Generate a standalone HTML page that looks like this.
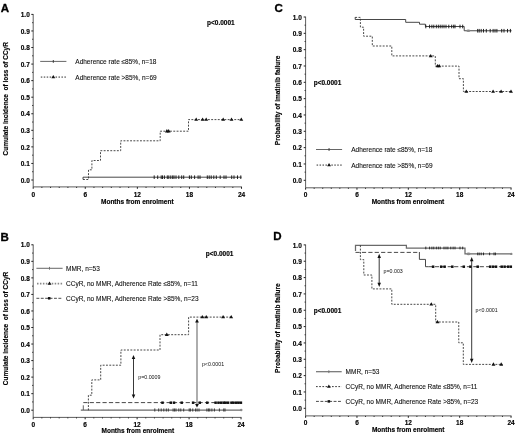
<!DOCTYPE html>
<html><head><meta charset="utf-8"><title>Figure</title>
<style>
html,body{margin:0;padding:0;background:#fff;}
svg{display:block;font-family:"Liberation Sans",sans-serif;filter:blur(0.35px);}
.b{font-size:6.5px;font-weight:bold;fill:#000;stroke:#000;stroke-width:0.15px;}
.r{font-size:6.5px;fill:#111;stroke:#111;stroke-width:0.1px;}
.s{font-size:5.3px;fill:#111;}
.L{font-size:10.8px;font-weight:bold;fill:#000;stroke:#000;stroke-width:0.3px;}
</style></head><body>
<svg width="520" height="437" viewBox="0 0 520 437">
<rect width="520" height="437" fill="#fff"/>
<path d="M33.2 14.1V186.9H241.92" fill="none" stroke="#333" stroke-width="0.8"/>
<path d="M31.3 180H33.2M32.2 171.72H33.2M31.3 163.44H33.2M32.2 155.16H33.2M31.3 146.88H33.2M32.2 138.6H33.2M31.3 130.32H33.2M32.2 122.04H33.2M31.3 113.76H33.2M32.2 105.48H33.2M31.3 97.2H33.2M32.2 88.92H33.2M31.3 80.64H33.2M32.2 72.36H33.2M31.3 64.08H33.2M32.2 55.8H33.2M31.3 47.52H33.2M32.2 39.24H33.2M31.3 30.96H33.2M32.2 22.68H33.2M31.3 14.4H33.2" stroke="#222" stroke-width="1.0" fill="none"/>
<path d="M33.2 186.9V188.8M41.88 186.9V187.9M50.56 186.9V187.9M59.24 186.9V187.9M67.92 186.9V187.9M76.6 186.9V187.9M85.28 186.9V188.8M93.96 186.9V187.9M102.64 186.9V187.9M111.32 186.9V187.9M120 186.9V187.9M128.68 186.9V187.9M137.36 186.9V188.8M146.04 186.9V187.9M154.72 186.9V187.9M163.4 186.9V187.9M172.08 186.9V187.9M180.76 186.9V187.9M189.44 186.9V188.8M198.12 186.9V187.9M206.8 186.9V187.9M215.48 186.9V187.9M224.16 186.9V187.9M232.84 186.9V187.9M241.52 186.9V188.8" stroke="#222" stroke-width="1.0" fill="none"/>
<text x="29.8" y="182.65" text-anchor="end" class="b">0.0</text>
<text x="29.8" y="166.09" text-anchor="end" class="b">0.1</text>
<text x="29.8" y="149.53" text-anchor="end" class="b">0.2</text>
<text x="29.8" y="132.97" text-anchor="end" class="b">0.3</text>
<text x="29.8" y="116.41" text-anchor="end" class="b">0.4</text>
<text x="29.8" y="99.85" text-anchor="end" class="b">0.5</text>
<text x="29.8" y="83.29" text-anchor="end" class="b">0.6</text>
<text x="29.8" y="66.73" text-anchor="end" class="b">0.7</text>
<text x="29.8" y="50.17" text-anchor="end" class="b">0.8</text>
<text x="29.8" y="33.61" text-anchor="end" class="b">0.9</text>
<text x="29.8" y="17.05" text-anchor="end" class="b">1.0</text>
<text x="33.2" y="196.8" text-anchor="middle" class="b">0</text>
<text x="85.28" y="196.8" text-anchor="middle" class="b">6</text>
<text x="137.36" y="196.8" text-anchor="middle" class="b">12</text>
<text x="189.44" y="196.8" text-anchor="middle" class="b">18</text>
<text x="241.52" y="196.8" text-anchor="middle" class="b">24</text>
<text transform="translate(0.65 11.75) scale(1.07 1)" class="L">A</text>
<text x="137.3" y="203.9" text-anchor="middle" class="b">Months from enrolment</text>
<text transform="translate(8.4 98.8) rotate(-90)" text-anchor="middle" class="b">Cumulate incidence&#160;&#160;of loss of CCyR</text>
<path d="M33.2 244.5V417.4H241.44" fill="none" stroke="#333" stroke-width="0.8"/>
<path d="M31.3 410.2H33.2M32.2 401.93H33.2M31.3 393.66H33.2M32.2 385.39H33.2M31.3 377.12H33.2M32.2 368.85H33.2M31.3 360.58H33.2M32.2 352.31H33.2M31.3 344.04H33.2M32.2 335.77H33.2M31.3 327.5H33.2M32.2 319.23H33.2M31.3 310.96H33.2M32.2 302.69H33.2M31.3 294.42H33.2M32.2 286.15H33.2M31.3 277.88H33.2M32.2 269.61H33.2M31.3 261.34H33.2M32.2 253.07H33.2M31.3 244.8H33.2" stroke="#222" stroke-width="1.0" fill="none"/>
<path d="M33.2 417.4V419.3M41.86 417.4V418.4M50.52 417.4V418.4M59.18 417.4V418.4M67.84 417.4V418.4M76.5 417.4V418.4M85.16 417.4V419.3M93.82 417.4V418.4M102.48 417.4V418.4M111.14 417.4V418.4M119.8 417.4V418.4M128.46 417.4V418.4M137.12 417.4V419.3M145.78 417.4V418.4M154.44 417.4V418.4M163.1 417.4V418.4M171.76 417.4V418.4M180.42 417.4V418.4M189.08 417.4V419.3M197.74 417.4V418.4M206.4 417.4V418.4M215.06 417.4V418.4M223.72 417.4V418.4M232.38 417.4V418.4M241.04 417.4V419.3" stroke="#222" stroke-width="1.0" fill="none"/>
<text x="29.8" y="412.85" text-anchor="end" class="b">0.0</text>
<text x="29.8" y="396.31" text-anchor="end" class="b">0.1</text>
<text x="29.8" y="379.77" text-anchor="end" class="b">0.2</text>
<text x="29.8" y="363.23" text-anchor="end" class="b">0.3</text>
<text x="29.8" y="346.69" text-anchor="end" class="b">0.4</text>
<text x="29.8" y="330.15" text-anchor="end" class="b">0.5</text>
<text x="29.8" y="313.61" text-anchor="end" class="b">0.6</text>
<text x="29.8" y="297.07" text-anchor="end" class="b">0.7</text>
<text x="29.8" y="280.53" text-anchor="end" class="b">0.8</text>
<text x="29.8" y="263.99" text-anchor="end" class="b">0.9</text>
<text x="29.8" y="247.45" text-anchor="end" class="b">1.0</text>
<text x="33.2" y="426.8" text-anchor="middle" class="b">0</text>
<text x="85.16" y="426.8" text-anchor="middle" class="b">6</text>
<text x="137.12" y="426.8" text-anchor="middle" class="b">12</text>
<text x="189.08" y="426.8" text-anchor="middle" class="b">18</text>
<text x="241.04" y="426.8" text-anchor="middle" class="b">24</text>
<text transform="translate(0.6 240.55) scale(1.07 1)" class="L">B</text>
<text x="137.8" y="433.2" text-anchor="middle" class="b">Months from enrolment</text>
<text transform="translate(8.4 328.5) rotate(-90)" text-anchor="middle" class="b">Cumulate incidence&#160;&#160;of loss of CCyR</text>
<path d="M305.6 16.7V187.8H511.44" fill="none" stroke="#333" stroke-width="0.8"/>
<path d="M303.7 180.3H305.6M304.6 172.14H305.6M303.7 163.97H305.6M304.6 155.81H305.6M303.7 147.64H305.6M304.6 139.48H305.6M303.7 131.31H305.6M304.6 123.15H305.6M303.7 114.98H305.6M304.6 106.81H305.6M303.7 98.65H305.6M304.6 90.48H305.6M303.7 82.32H305.6M304.6 74.16H305.6M303.7 65.99H305.6M304.6 57.83H305.6M303.7 49.66H305.6M304.6 41.49H305.6M303.7 33.33H305.6M304.6 25.16H305.6M303.7 17H305.6" stroke="#222" stroke-width="1.0" fill="none"/>
<path d="M305.6 187.8V189.7M314.16 187.8V188.8M322.72 187.8V188.8M331.28 187.8V188.8M339.84 187.8V188.8M348.4 187.8V188.8M356.96 187.8V189.7M365.52 187.8V188.8M374.08 187.8V188.8M382.64 187.8V188.8M391.2 187.8V188.8M399.76 187.8V188.8M408.32 187.8V189.7M416.88 187.8V188.8M425.44 187.8V188.8M434 187.8V188.8M442.56 187.8V188.8M451.12 187.8V188.8M459.68 187.8V189.7M468.24 187.8V188.8M476.8 187.8V188.8M485.36 187.8V188.8M493.92 187.8V188.8M502.48 187.8V188.8M511.04 187.8V189.7" stroke="#222" stroke-width="1.0" fill="none"/>
<text x="301.8" y="182.95" text-anchor="end" class="b">0.0</text>
<text x="301.8" y="166.62" text-anchor="end" class="b">0.1</text>
<text x="301.8" y="150.29" text-anchor="end" class="b">0.2</text>
<text x="301.8" y="133.96" text-anchor="end" class="b">0.3</text>
<text x="301.8" y="117.63" text-anchor="end" class="b">0.4</text>
<text x="301.8" y="101.3" text-anchor="end" class="b">0.5</text>
<text x="301.8" y="84.97" text-anchor="end" class="b">0.6</text>
<text x="301.8" y="68.64" text-anchor="end" class="b">0.7</text>
<text x="301.8" y="52.31" text-anchor="end" class="b">0.8</text>
<text x="301.8" y="35.98" text-anchor="end" class="b">0.9</text>
<text x="301.8" y="19.65" text-anchor="end" class="b">1.0</text>
<text x="305.6" y="196.6" text-anchor="middle" class="b">0</text>
<text x="356.96" y="196.6" text-anchor="middle" class="b">6</text>
<text x="408.32" y="196.6" text-anchor="middle" class="b">12</text>
<text x="459.68" y="196.6" text-anchor="middle" class="b">18</text>
<text x="511.04" y="196.6" text-anchor="middle" class="b">24</text>
<text transform="translate(274.5 11.8) scale(1.07 1)" class="L">C</text>
<text x="408" y="203.9" text-anchor="middle" class="b">Months from enrolment</text>
<text transform="translate(279.9 100.4) rotate(-90)" text-anchor="middle" class="b">Probability of imatinib failure</text>
<path d="M305.6 244.6V415.9H511.44" fill="none" stroke="#333" stroke-width="0.8"/>
<path d="M303.7 408.3H305.6M304.6 400.13H305.6M303.7 391.96H305.6M304.6 383.79H305.6M303.7 375.62H305.6M304.6 367.45H305.6M303.7 359.28H305.6M304.6 351.11H305.6M303.7 342.94H305.6M304.6 334.77H305.6M303.7 326.6H305.6M304.6 318.43H305.6M303.7 310.26H305.6M304.6 302.09H305.6M303.7 293.92H305.6M304.6 285.75H305.6M303.7 277.58H305.6M304.6 269.41H305.6M303.7 261.24H305.6M304.6 253.07H305.6M303.7 244.9H305.6" stroke="#222" stroke-width="1.0" fill="none"/>
<path d="M305.6 415.9V417.8M314.16 415.9V416.9M322.72 415.9V416.9M331.28 415.9V416.9M339.84 415.9V416.9M348.4 415.9V416.9M356.96 415.9V417.8M365.52 415.9V416.9M374.08 415.9V416.9M382.64 415.9V416.9M391.2 415.9V416.9M399.76 415.9V416.9M408.32 415.9V417.8M416.88 415.9V416.9M425.44 415.9V416.9M434 415.9V416.9M442.56 415.9V416.9M451.12 415.9V416.9M459.68 415.9V417.8M468.24 415.9V416.9M476.8 415.9V416.9M485.36 415.9V416.9M493.92 415.9V416.9M502.48 415.9V416.9M511.04 415.9V417.8" stroke="#222" stroke-width="1.0" fill="none"/>
<text x="301.8" y="410.95" text-anchor="end" class="b">0.0</text>
<text x="301.8" y="394.61" text-anchor="end" class="b">0.1</text>
<text x="301.8" y="378.27" text-anchor="end" class="b">0.2</text>
<text x="301.8" y="361.93" text-anchor="end" class="b">0.3</text>
<text x="301.8" y="345.59" text-anchor="end" class="b">0.4</text>
<text x="301.8" y="329.25" text-anchor="end" class="b">0.5</text>
<text x="301.8" y="312.91" text-anchor="end" class="b">0.6</text>
<text x="301.8" y="296.57" text-anchor="end" class="b">0.7</text>
<text x="301.8" y="280.23" text-anchor="end" class="b">0.8</text>
<text x="301.8" y="263.89" text-anchor="end" class="b">0.9</text>
<text x="301.8" y="247.55" text-anchor="end" class="b">1.0</text>
<text x="305.6" y="424.8" text-anchor="middle" class="b">0</text>
<text x="356.96" y="424.8" text-anchor="middle" class="b">6</text>
<text x="408.32" y="424.8" text-anchor="middle" class="b">12</text>
<text x="459.68" y="424.8" text-anchor="middle" class="b">18</text>
<text x="511.04" y="424.8" text-anchor="middle" class="b">24</text>
<text transform="translate(273.3 240.3) scale(1.07 1)" class="L">D</text>
<text x="408.2" y="432.1" text-anchor="middle" class="b">Months from enrolment</text>
<text transform="translate(279.9 328.1) rotate(-90)" text-anchor="middle" class="b">Probability of imatinib failure</text>
<path d="M40.2 61.4H66.4" stroke="#333" stroke-width="0.75"/>
<path d="M53.3 60V62.8" stroke="#333" stroke-width="0.95"/>
<text x="75.3" y="64" class="r" text-anchor="start">Adherence rate ≤85%, n=18</text>
<path d="M40.8 77.1H66.4" stroke="#888" stroke-width="1.6" stroke-dasharray="1.5 1.45"/>
<path d="M53.3 75L55.25 78.35H51.35Z" fill="#111"/>
<text x="75.3" y="79.9" class="r" text-anchor="start">Adherence rate &gt;85%, n=69</text>
<path d="M316 149.5H342.1" stroke="#333" stroke-width="0.75"/>
<path d="M329.05 148.1V150.9" stroke="#333" stroke-width="0.95"/>
<text x="351.2" y="152.1" class="r" text-anchor="start">Adherence rate ≤85%, n=18</text>
<path d="M316.6 165.1H342.1" stroke="#888" stroke-width="1.6" stroke-dasharray="1.5 1.45"/>
<path d="M329.05 163L331 166.35H327.1Z" fill="#111"/>
<text x="351.2" y="167.8" class="r" text-anchor="start">Adherence rate &gt;85%, n=69</text>
<path d="M36.4 268.3H62.6" stroke="#6c6c6c" stroke-width="1.05"/>
<path d="M49.5 266.9V269.7" stroke="#6c6c6c" stroke-width="0.95"/>
<text x="66" y="270.7" class="r" text-anchor="start">MMR, n=53</text>
<path d="M37 283.6H62.6" stroke="#888" stroke-width="1.6" stroke-dasharray="1.5 1.45"/>
<path d="M49.5 281.5L51.45 284.85H47.55Z" fill="#111"/>
<text x="66" y="285.8" class="r" text-anchor="start">CCyR, no MMR, Adherence Rate ≤85%, n=11</text>
<path d="M36.4 298.3H62" stroke="#2a2a2a" stroke-width="0.85" stroke-dasharray="2.9 1.5"/>
<rect x="47.95" y="297.05" width="2.5" height="2.5" fill="#111"/>
<text x="66" y="300.6" class="r" text-anchor="start">CCyR, no MMR, Adherence Rate &gt;85%, n=23</text>
<path d="M316 371.7H341.7" stroke="#707070" stroke-width="1.2"/>
<path d="M328.85 370.3V373.1" stroke="#707070" stroke-width="0.95"/>
<text x="345.6" y="374.4" class="r" text-anchor="start">MMR, n=53</text>
<path d="M316 386.6H341.7" stroke="#222" stroke-width="0.9" stroke-dasharray="1.7 1.5"/>
<path d="M328.85 384.5L330.8 387.85H326.9Z" fill="#111"/>
<text x="345.6" y="389.1" class="r" text-anchor="start">CCyR, no MMR, Adherence Rate ≤85%, n=11</text>
<path d="M316 401.4H341.7" stroke="#2a2a2a" stroke-width="0.85" stroke-dasharray="2.9 1.5"/>
<rect x="327.6" y="400.15" width="2.5" height="2.5" fill="#111"/>
<text x="345.6" y="403.7" class="r" text-anchor="start">CCyR, no MMR, Adherence Rate &gt;85%, n=23</text>
<text x="207" y="24.8" class="b" text-anchor="start">p&lt;0.0001</text>
<text x="205.8" y="255.6" class="b" text-anchor="start">p&lt;0.0001</text>
<text x="313.7" y="84.8" class="b" text-anchor="start">p&lt;0.0001</text>
<text x="313.7" y="312.8" class="b" text-anchor="start">p&lt;0.0001</text>
<path d="M83 179.4L83 177.2L241.6 177.2" fill="none" stroke="#333" stroke-width="0.9"/>
<path d="M154.2 175.4V179" stroke="#161616" stroke-width="0.95"/>
<path d="M157.7 175.4V179" stroke="#161616" stroke-width="0.95"/>
<path d="M161.2 175.4V179" stroke="#161616" stroke-width="0.95"/>
<path d="M162.5 175.4V179" stroke="#161616" stroke-width="0.95"/>
<path d="M164.4 175.4V179" stroke="#161616" stroke-width="0.95"/>
<path d="M167.3 175.4V179" stroke="#161616" stroke-width="0.95"/>
<path d="M168.8 175.4V179" stroke="#161616" stroke-width="0.95"/>
<path d="M170.8 175.4V179" stroke="#161616" stroke-width="0.95"/>
<path d="M172.7 175.4V179" stroke="#161616" stroke-width="0.95"/>
<path d="M174 175.4V179" stroke="#161616" stroke-width="0.95"/>
<path d="M176 175.4V179" stroke="#161616" stroke-width="0.95"/>
<path d="M178.8 175.4V179" stroke="#161616" stroke-width="0.95"/>
<path d="M181.7 175.4V179" stroke="#161616" stroke-width="0.95"/>
<path d="M183.7 175.4V179" stroke="#161616" stroke-width="0.95"/>
<path d="M189.4 175.4V179" stroke="#161616" stroke-width="0.95"/>
<path d="M191.3 175.4V179" stroke="#161616" stroke-width="0.95"/>
<path d="M194.6 175.4V179" stroke="#161616" stroke-width="0.95"/>
<path d="M198.1 175.4V179" stroke="#161616" stroke-width="0.95"/>
<path d="M200 175.4V179" stroke="#161616" stroke-width="0.95"/>
<path d="M207.3 175.4V179" stroke="#161616" stroke-width="0.95"/>
<path d="M209.2 175.4V179" stroke="#161616" stroke-width="0.95"/>
<path d="M211.2 175.4V179" stroke="#161616" stroke-width="0.95"/>
<path d="M213.8 175.4V179" stroke="#161616" stroke-width="0.95"/>
<path d="M216.3 175.4V179" stroke="#161616" stroke-width="0.95"/>
<path d="M220.2 175.4V179" stroke="#161616" stroke-width="0.95"/>
<path d="M224 175.4V179" stroke="#161616" stroke-width="0.95"/>
<path d="M226 175.4V179" stroke="#161616" stroke-width="0.95"/>
<path d="M231.7 175.4V179" stroke="#161616" stroke-width="0.95"/>
<path d="M234 175.4V179" stroke="#161616" stroke-width="0.95"/>
<path d="M237.5 175.4V179" stroke="#161616" stroke-width="0.95"/>
<path d="M240.8 175.4V179" stroke="#161616" stroke-width="0.95"/>
<path d="M83 179.5L88.5 179.5L88.5 169.8L91.9 169.8L91.9 160.5L100.5 160.5L100.5 150.7L120.7 150.7L120.7 140.8L160.2 140.8L160.2 131.2L188.5 131.2L188.5 119.6L241.8 119.6" fill="none" stroke="#333" stroke-width="0.9" stroke-dasharray="1.9 1.4"/>
<path d="M166.9 129.1L168.85 132.45H164.95Z" fill="#111"/>
<path d="M168.7 129.1L170.65 132.45H166.75Z" fill="#111"/>
<path d="M196.2 117.5L198.15 120.85H194.25Z" fill="#111"/>
<path d="M202.6 117.5L204.55 120.85H200.65Z" fill="#111"/>
<path d="M206.2 117.5L208.15 120.85H204.25Z" fill="#111"/>
<path d="M223.2 117.5L225.15 120.85H221.25Z" fill="#111"/>
<path d="M231.5 117.5L233.45 120.85H229.55Z" fill="#111"/>
<path d="M241.3 117.5L243.25 120.85H239.35Z" fill="#111"/>
<path d="M355.2 17.2L355.2 17.2L355.2 19.5L405.7 19.5L405.7 22.3L419.5 22.3L419.5 24.2L425.4 24.2L425.4 26.5L464.2 26.5L464.2 30.75L511.6 30.75" fill="none" stroke="#333" stroke-width="0.9"/>
<path d="M425.8 24.7V28.3" stroke="#161616" stroke-width="0.95"/>
<path d="M429.6 24.7V28.3" stroke="#161616" stroke-width="0.95"/>
<path d="M431.9 24.7V28.3" stroke="#161616" stroke-width="0.95"/>
<path d="M433.8 24.7V28.3" stroke="#161616" stroke-width="0.95"/>
<path d="M436.3 24.7V28.3" stroke="#161616" stroke-width="0.95"/>
<path d="M438.3 24.7V28.3" stroke="#161616" stroke-width="0.95"/>
<path d="M440.2 24.7V28.3" stroke="#161616" stroke-width="0.95"/>
<path d="M442.1 24.7V28.3" stroke="#161616" stroke-width="0.95"/>
<path d="M444 24.7V28.3" stroke="#161616" stroke-width="0.95"/>
<path d="M446 24.7V28.3" stroke="#161616" stroke-width="0.95"/>
<path d="M448.8 24.7V28.3" stroke="#161616" stroke-width="0.95"/>
<path d="M451.7 24.7V28.3" stroke="#161616" stroke-width="0.95"/>
<path d="M453.7 24.7V28.3" stroke="#161616" stroke-width="0.95"/>
<path d="M455 24.7V28.3" stroke="#161616" stroke-width="0.95"/>
<path d="M460 24.7V28.3" stroke="#161616" stroke-width="0.95"/>
<path d="M462.7 24.7V28.3" stroke="#161616" stroke-width="0.95"/>
<ellipse cx="468.3" cy="30.75" rx="2.0" ry="1.3" fill="#888"/>
<path d="M477.7 28.95V32.55" stroke="#161616" stroke-width="0.95"/>
<path d="M479.2 28.95V32.55" stroke="#161616" stroke-width="0.95"/>
<path d="M481.2 28.95V32.55" stroke="#161616" stroke-width="0.95"/>
<path d="M483.5 28.95V32.55" stroke="#161616" stroke-width="0.95"/>
<path d="M486.3 28.95V32.55" stroke="#161616" stroke-width="0.95"/>
<path d="M490.2 28.95V32.55" stroke="#161616" stroke-width="0.95"/>
<path d="M493.1 28.95V32.55" stroke="#161616" stroke-width="0.95"/>
<path d="M495 28.95V32.55" stroke="#161616" stroke-width="0.95"/>
<path d="M496.9 28.95V32.55" stroke="#161616" stroke-width="0.95"/>
<path d="M501.7 28.95V32.55" stroke="#161616" stroke-width="0.95"/>
<path d="M504 28.95V32.55" stroke="#161616" stroke-width="0.95"/>
<path d="M507.5 28.95V32.55" stroke="#161616" stroke-width="0.95"/>
<path d="M510.4 28.95V32.55" stroke="#161616" stroke-width="0.95"/>
<path d="M355.2 17.4L360.4 17.4L360.4 27.2L363.6 27.2L363.6 36.2L372.3 36.2L372.3 46L391.8 46L391.8 55.9L435.3 55.9L435.3 66.1L459 66.1L459 78.7L463.4 78.7L463.4 91.5L511.6 91.5" fill="none" stroke="#333" stroke-width="0.9" stroke-dasharray="1.9 1.4"/>
<path d="M430.7 53.9L432.65 57.25H428.75Z" fill="#111"/>
<path d="M437.6 64L439.55 67.35H435.65Z" fill="#111"/>
<path d="M439.2 64L441.15 67.35H437.25Z" fill="#111"/>
<path d="M466.3 89.4L468.25 92.75H464.35Z" fill="#111"/>
<path d="M493.1 89.4L495.05 92.75H491.15Z" fill="#111"/>
<path d="M501.1 89.4L503.05 92.75H499.15Z" fill="#111"/>
<path d="M511 89.4L512.95 92.75H509.05Z" fill="#111"/>
<path d="M80.8 410L241.3 410" fill="none" stroke="#6a6a6a" stroke-width="1.25"/>
<path d="M83.3 410L83.3 405.3" fill="none" stroke="#555" stroke-width="0.9"/>
<path d="M154.8 408.45V411.55" stroke="#2a2a2a" stroke-width="0.9"/>
<path d="M158.7 408.45V411.55" stroke="#2a2a2a" stroke-width="0.9"/>
<path d="M161.2 408.45V411.55" stroke="#2a2a2a" stroke-width="0.9"/>
<path d="M163.8 408.45V411.55" stroke="#2a2a2a" stroke-width="0.9"/>
<path d="M166.3 408.45V411.55" stroke="#2a2a2a" stroke-width="0.9"/>
<path d="M168.3 408.45V411.55" stroke="#2a2a2a" stroke-width="0.9"/>
<path d="M173.1 408.45V411.55" stroke="#2a2a2a" stroke-width="0.9"/>
<path d="M174.6 408.45V411.55" stroke="#2a2a2a" stroke-width="0.9"/>
<path d="M176 408.45V411.55" stroke="#2a2a2a" stroke-width="0.9"/>
<path d="M178.8 408.45V411.55" stroke="#2a2a2a" stroke-width="0.9"/>
<path d="M180.8 408.45V411.55" stroke="#2a2a2a" stroke-width="0.9"/>
<path d="M183.7 408.45V411.55" stroke="#2a2a2a" stroke-width="0.9"/>
<path d="M189.2 408.45V411.55" stroke="#2a2a2a" stroke-width="0.9"/>
<path d="M190.4 408.45V411.55" stroke="#2a2a2a" stroke-width="0.9"/>
<path d="M192.75 408.45V411.55" stroke="#2a2a2a" stroke-width="0.9"/>
<path d="M195.6 408.45V411.55" stroke="#2a2a2a" stroke-width="0.9"/>
<path d="M197.1 408.45V411.55" stroke="#2a2a2a" stroke-width="0.9"/>
<path d="M199 408.45V411.55" stroke="#2a2a2a" stroke-width="0.9"/>
<path d="M206.9 408.45V411.55" stroke="#2a2a2a" stroke-width="0.9"/>
<path d="M208.4 408.45V411.55" stroke="#2a2a2a" stroke-width="0.9"/>
<path d="M209.75 408.45V411.55" stroke="#2a2a2a" stroke-width="0.9"/>
<path d="M211.9 408.45V411.55" stroke="#2a2a2a" stroke-width="0.9"/>
<path d="M214.4 408.45V411.55" stroke="#2a2a2a" stroke-width="0.9"/>
<path d="M219.4 408.45V411.55" stroke="#2a2a2a" stroke-width="0.9"/>
<path d="M223.75 408.45V411.55" stroke="#2a2a2a" stroke-width="0.9"/>
<path d="M225 408.45V411.55" stroke="#2a2a2a" stroke-width="0.9"/>
<circle cx="241.2" cy="410.0" r="1.3" fill="#888"/>
<path d="M83.3 402.6L241.5 402.6" fill="none" stroke="#333" stroke-width="0.9" stroke-dasharray="4.2 2.2"/>
<rect x="161.25" y="401.45" width="2.5" height="2.5" fill="#111"/>
<rect x="169.55" y="401.45" width="2.5" height="2.5" fill="#111"/>
<rect x="172.75" y="401.45" width="2.5" height="2.5" fill="#111"/>
<rect x="180.45" y="401.45" width="2.5" height="2.5" fill="#111"/>
<rect x="191.85" y="401.45" width="2.5" height="2.5" fill="#111"/>
<rect x="198.5" y="401.45" width="2.5" height="2.5" fill="#111"/>
<rect x="206" y="401.45" width="2.5" height="2.5" fill="#111"/>
<rect x="214.35" y="401.45" width="2.5" height="2.5" fill="#111"/>
<rect x="217.25" y="401.45" width="2.5" height="2.5" fill="#111"/>
<rect x="220" y="401.45" width="2.5" height="2.5" fill="#111"/>
<rect x="222.5" y="401.45" width="2.5" height="2.5" fill="#111"/>
<rect x="224.35" y="401.45" width="2.5" height="2.5" fill="#111"/>
<rect x="226.85" y="401.45" width="2.5" height="2.5" fill="#111"/>
<rect x="230.25" y="401.45" width="2.5" height="2.5" fill="#111"/>
<rect x="232.25" y="401.45" width="2.5" height="2.5" fill="#111"/>
<rect x="235" y="401.45" width="2.5" height="2.5" fill="#111"/>
<rect x="237.25" y="401.45" width="2.5" height="2.5" fill="#111"/>
<rect x="239.65" y="401.45" width="2.5" height="2.5" fill="#111"/>
<path d="M88.4 410.3L88.4 410.3L88.4 395.2L91.8 395.2L91.8 379.9L100.7 379.9L100.7 365.2L120.9 365.2L120.9 350L160 350L160 334.7L188.6 334.7L188.6 317.1L232.7 317.1" fill="none" stroke="#333" stroke-width="0.9" stroke-dasharray="1.9 1.4"/>
<path d="M166.8 332.6L168.75 335.95H164.85Z" fill="#111"/>
<path d="M202.3 315L204.25 318.35H200.35Z" fill="#111"/>
<path d="M206.2 315L208.15 318.35H204.25Z" fill="#111"/>
<path d="M223.1 315L225.05 318.35H221.15Z" fill="#111"/>
<path d="M231.2 315L233.15 318.35H229.25Z" fill="#111"/>
<path d="M133.5 358.6V394.9" stroke="#222" stroke-width="0.9"/>
<path d="M133.5 354.9L135.25 359.1H131.75Z" fill="#111"/>
<path d="M133.5 398.6L135.25 394.4H131.75Z" fill="#111"/>
<text x="138.2" y="379.1" class="s" text-anchor="start">p=0.0009</text>
<path d="M197 321.9V404.4" stroke="#777" stroke-width="1.2"/>
<path d="M197 318.8L198.9 322.4H195.1Z" fill="#111"/>
<path d="M197 407.5L198.9 403.9H195.1Z" fill="#111"/>
<text x="201.9" y="365.7" class="s" text-anchor="start">p&lt;0.0001</text>
<path d="M355.5 251L355.5 251L355.5 245.3L406.4 245.3L406.4 248L465 248L465 253.9L511.3 253.9" fill="none" stroke="#6a6a6a" stroke-width="1.25"/>
<path d="M425.8 246.65V249.35" stroke="#222" stroke-width="0.95"/>
<path d="M429.6 246.65V249.35" stroke="#222" stroke-width="0.95"/>
<path d="M431.9 246.65V249.35" stroke="#222" stroke-width="0.95"/>
<path d="M433.8 246.65V249.35" stroke="#222" stroke-width="0.95"/>
<path d="M436.3 246.65V249.35" stroke="#222" stroke-width="0.95"/>
<path d="M438.3 246.65V249.35" stroke="#222" stroke-width="0.95"/>
<path d="M440.2 246.65V249.35" stroke="#222" stroke-width="0.95"/>
<path d="M444 246.65V249.35" stroke="#222" stroke-width="0.95"/>
<path d="M446 246.65V249.35" stroke="#222" stroke-width="0.95"/>
<path d="M447.9 246.65V249.35" stroke="#222" stroke-width="0.95"/>
<path d="M450.8 246.65V249.35" stroke="#222" stroke-width="0.95"/>
<path d="M453.1 246.65V249.35" stroke="#222" stroke-width="0.95"/>
<path d="M455 246.65V249.35" stroke="#222" stroke-width="0.95"/>
<path d="M460 246.65V249.35" stroke="#222" stroke-width="0.95"/>
<path d="M462.7 246.65V249.35" stroke="#222" stroke-width="0.95"/>
<path d="M477.7 252.55V255.25" stroke="#222" stroke-width="0.95"/>
<path d="M479.2 252.55V255.25" stroke="#222" stroke-width="0.95"/>
<path d="M481.2 252.55V255.25" stroke="#222" stroke-width="0.95"/>
<path d="M483.5 252.55V255.25" stroke="#222" stroke-width="0.95"/>
<path d="M489.6 252.55V255.25" stroke="#222" stroke-width="0.95"/>
<path d="M494 252.55V255.25" stroke="#222" stroke-width="0.95"/>
<path d="M495.4 252.55V255.25" stroke="#222" stroke-width="0.95"/>
<ellipse cx="468.5" cy="253.9" rx="2.0" ry="1.3" fill="#888"/>
<circle cx="511.3" cy="253.9" r="1.2" fill="#888"/>
<path d="M355.5 252.4L419.4 252.4" fill="none" stroke="#333" stroke-width="0.9" stroke-dasharray="4.2 2.2"/>
<path d="M419.4 252L419.4 259.4L425.5 259.4L425.5 266.7L428.5 266.7" fill="none" stroke="#333" stroke-width="0.9"/>
<path d="M428.5 266.7L511.3 266.7" fill="none" stroke="#333" stroke-width="0.9" stroke-dasharray="4.2 2.2"/>
<rect x="431.85" y="265.45" width="2.5" height="2.5" fill="#111"/>
<rect x="439.95" y="265.45" width="2.5" height="2.5" fill="#111"/>
<rect x="443.35" y="265.45" width="2.5" height="2.5" fill="#111"/>
<rect x="451.05" y="265.45" width="2.5" height="2.5" fill="#111"/>
<rect x="462.55" y="265.45" width="2.5" height="2.5" fill="#111"/>
<rect x="469.15" y="265.45" width="2.5" height="2.5" fill="#111"/>
<rect x="476.45" y="265.45" width="2.5" height="2.5" fill="#111"/>
<rect x="488.95" y="265.45" width="2.5" height="2.5" fill="#111"/>
<rect x="491.85" y="265.45" width="2.5" height="2.5" fill="#111"/>
<rect x="494.75" y="265.45" width="2.5" height="2.5" fill="#111"/>
<rect x="500.45" y="265.45" width="2.5" height="2.5" fill="#111"/>
<rect x="503.35" y="265.45" width="2.5" height="2.5" fill="#111"/>
<rect x="506.85" y="265.45" width="2.5" height="2.5" fill="#111"/>
<rect x="509.55" y="265.45" width="2.5" height="2.5" fill="#111"/>
<path d="M360.4 245.3L360.4 245.3L360.4 259.6L363.8 259.6L363.8 275L371.9 275L371.9 288.9L391.8 288.9L391.8 304.3L435.7 304.3L435.7 322L458.75 322L458.75 342.8L463.3 342.8L463.3 364.4L502.7 364.4" fill="none" stroke="#333" stroke-width="0.9" stroke-dasharray="1.9 1.4"/>
<path d="M431.3 302.2L433.25 305.55H429.35Z" fill="#111"/>
<path d="M437.5 319.9L439.45 323.25H435.55Z" fill="#111"/>
<path d="M493.5 362.3L495.45 365.65H491.55Z" fill="#111"/>
<path d="M501.2 362.3L503.15 365.65H499.25Z" fill="#111"/>
<path d="M379.2 257.5V283.3" stroke="#222" stroke-width="0.9"/>
<path d="M379.2 253.8L380.95 258H377.45Z" fill="#111"/>
<path d="M379.2 287L380.95 282.8H377.45Z" fill="#111"/>
<text x="383.5" y="273.1" class="s" text-anchor="start">p=0.003</text>
<path d="M471.7 260.7V359.2" stroke="#222" stroke-width="0.9"/>
<path d="M471.7 257L473.45 261.2H469.95Z" fill="#111"/>
<path d="M471.7 362.9L473.45 358.7H469.95Z" fill="#111"/>
<text x="475.5" y="312" class="s" text-anchor="start">p&lt;0.0001</text>
</svg>
</body></html>
